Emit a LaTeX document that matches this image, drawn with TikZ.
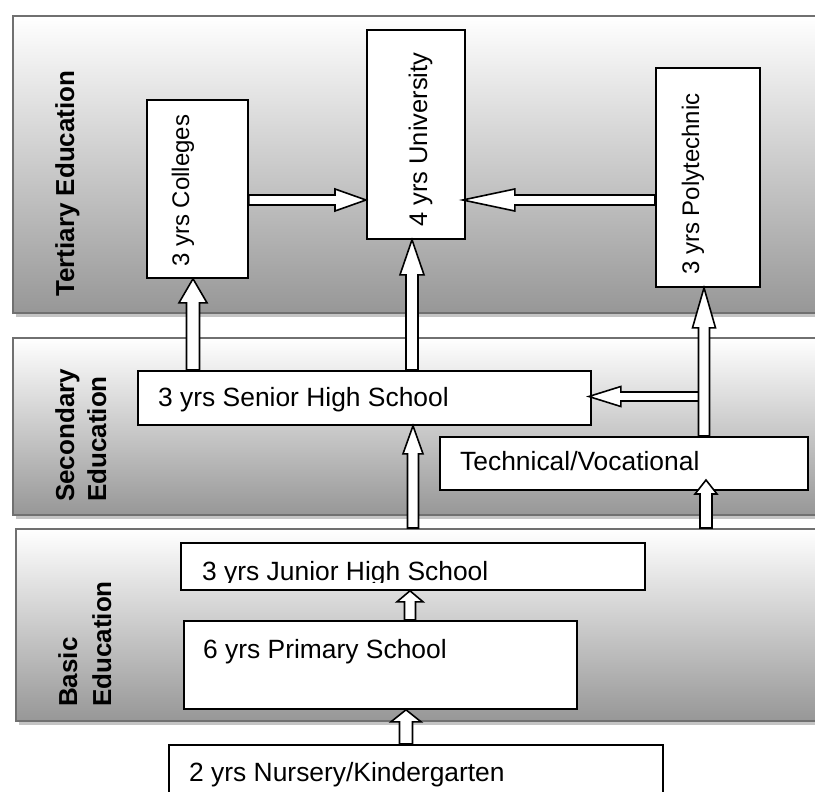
\documentclass[tikz,border=0pt]{standalone}
\usepackage{fontspec}
\setmainfont{Liberation Sans}
\usetikzlibrary{calc,shadows}
\definecolor{bandline}{HTML}{707070}
\definecolor{bandshadow}{HTML}{C4C4C4}
\definecolor{bandbottom}{HTML}{979797}
\begin{document}
\begin{tikzpicture}[x=1pt,y=-1pt,
  band/.style={draw=bandline, line width=2pt, top color=white, bottom color=bandbottom,
    anchor=north west, inner sep=0pt,
    drop shadow={shadow xshift=3pt, shadow yshift=-4pt, fill=bandshadow, opacity=1}},
  box/.style={draw=black, fill=white, line width=1.8pt, anchor=north west, inner sep=0pt},
  txt/.style={font={\fontsize{26.4}{32}\selectfont}, inner sep=0pt, anchor=base west},
  vtxt/.style={txt, rotate=90},
  lab/.style={font={\fontsize{26}{32}\selectfont\bfseries}, inner sep=0pt, rotate=90, align=left},
  barrow/.style args={#1/#2/#3}{draw=black, fill=white, line width=1.6pt, line join=miter,
    to path={
      let \p1=($(\tikztotarget)!#3!(\tikztostart)$) in
      ($(\tikztostart)!#1!90:(\tikztotarget)$) -- ($(\p1)!#1!-90:(\tikztostart)$)
      -- ($(\p1)!#2!-90:(\tikztostart)$) -- (\tikztotarget)
      -- ($(\p1)!#2!90:(\tikztostart)$) -- ($(\p1)!#1!90:(\tikztostart)$)
      -- ($(\tikztostart)!#1!-90:(\tikztotarget)$) -- cycle}}
]
\useasboundingbox (0,0) rectangle (815,792);
\clip (0,0) rectangle (815,792);

% bands
\node[band, minimum width=830pt, minimum height=297pt] (tert) at (12,15) {};
\node[band, minimum width=830pt, minimum height=177pt] (sec) at (12,337) {};
\node[band, minimum width=830pt, minimum height=192pt] (basic) at (15,528) {};

\node[lab, anchor=base west] (tertL) at (74,297) {Tertiary Education};
\node[lab, anchor=north west] (secL) at (55,502) {Secondary\\Education};
\node[lab, anchor=north west, font={\fontsize{26}{34}\selectfont\bfseries}] (basicL) at (58,707) {Basic\\Education};

% boxes
\node[box, minimum width=101pt, minimum height=178pt] (coll) at (146,99) {};
\node[box, minimum width=98pt, minimum height=209pt] (univ) at (366,29) {};
\node[box, minimum width=104pt, minimum height=219pt] (poly) at (655,67) {};
\node[box, minimum width=453pt, minimum height=54pt] (shs) at (137,370) {};
\node[box, minimum width=368pt, minimum height=53pt] (tech) at (439,436) {};
\node[box, minimum width=464pt, minimum height=47pt] (jhs) at (180,542) {};
\node[box, minimum width=393pt, minimum height=88pt] (prim) at (183,620) {};
\node[box, minimum width=494pt, minimum height=90pt] (nurs) at (168,744) {};

% texts
\node[vtxt, font={\fontsize{24}{29}\selectfont}] (collT) at (189,267) {3 yrs Colleges};
\node[vtxt, font={\fontsize{25.5}{30}\selectfont}] (univT) at (427,227) {4 yrs University};
\node[vtxt, font={\fontsize{24}{29}\selectfont}] (polyT) at (699,275) {3 yrs Polytechnic};
\node[txt] (shsT) at (158,406) {3 yrs Senior High School};
\node[txt] (techT) at (460,470) {Technical/Vocational};
\begin{scope}
  \clip (jhs.north west) rectangle ([yshift=8.5pt]jhs.south east);
  \node[txt] (jhsT) at (202,580) {3 yrs Junior High School};
\end{scope}
\node[txt] (primT) at (203,658) {6 yrs Primary School};
\node[txt] (nursT) at (189,781) {2 yrs Nursery/Kindergarten};

% arrow end points
\coordinate (yA) at (0,200);
\coordinate (xC) at (193,0);
\coordinate (xU) at (412,0);
\coordinate (xP) at (704,0);
\coordinate (xJ) at (413,0);
\coordinate (xT) at (706,0);
\coordinate (xS) at (410,0);
\coordinate (xN) at (406,0);
\coordinate (c1s) at (coll.east |- yA);
\coordinate (c1e) at (univ.west |- yA);
\coordinate (c2s) at (poly.west |- yA);
\coordinate (c2e) at ([xshift=-3pt]univ.east |- yA);
\coordinate (c3s) at (xC |- shs.north);
\coordinate (c3e) at (xC |- coll.south);
\coordinate (c4s) at (xU |- shs.north);
\coordinate (c4e) at (xU |- univ.south);
\coordinate (c5s) at (xP |- tech.north);
\coordinate (c5e) at (xP |- poly.south);
\coordinate (c6s) at (704,396.5);
\coordinate (c6e) at ([xshift=-3pt]shs.east |- c6s);
\coordinate (c7s) at (xJ |- basic.north);
\coordinate (c7e) at (xJ |- shs.south);
\coordinate (c8s) at (xT |- basic.north);
\coordinate (c8e) at (706,480);
\coordinate (c9s) at (xS |- prim.north);
\coordinate (c9e) at (xS |- jhs.south);
\coordinate (c10s) at (xN |- nurs.north);
\coordinate (c10e) at (xN |- prim.south);

% arrows
\draw[barrow=5pt/11pt/31pt] (c1s) to (c1e);
\draw[barrow=5pt/11pt/52pt] (c2s) to (c2e);
\draw[barrow=6.5pt/14pt/24pt] (c3s) to (c3e);
\draw[barrow=6pt/12pt/35pt] (c4s) to (c4e);
\draw[barrow=4.5pt/10pt/32pt] (c6s) to (c6e);
\draw[barrow=5.5pt/11.5pt/40pt] (c5s) to (c5e);
\draw[barrow=5.5pt/10pt/28pt] (c7s) to (c7e);
\draw[barrow=6pt/11pt/14pt] (c8s) to (c8e);
\draw[barrow=5.5pt/13pt/11pt] (c9s) to (c9e);
\draw[barrow=6.5pt/15pt/12pt] (c10s) to (c10e);
\end{tikzpicture}
\end{document}
